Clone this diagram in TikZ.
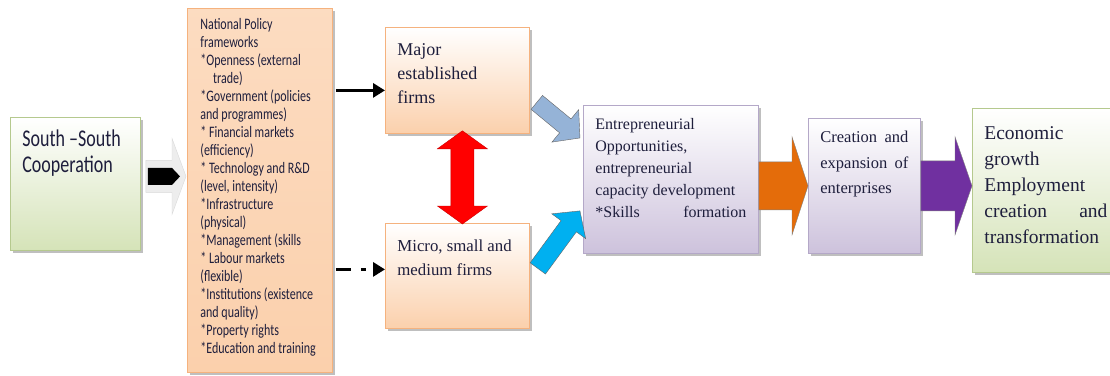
\documentclass[tikz,border=0pt]{standalone}
\usepackage{fontspec}
\setmainfont{Liberation Serif}
\newfontfamily\calibri[FakeStretch=0.75]{Carlito}
\usetikzlibrary{arrows.meta,calc,shadows}
\definecolor{ink}{HTML}{1E1E3C}
\definecolor{leaf}{HTML}{D5E3B8}
\definecolor{leafline}{HTML}{B5C98E}
\definecolor{peach}{HTML}{FBD0AC}
\definecolor{peachline}{HTML}{F5B27E}
\definecolor{lilac}{HTML}{CDC2DC}
\definecolor{lilacline}{HTML}{B4A8C8}
\definecolor{steel}{HTML}{95B3D7}
\definecolor{sky}{HTML}{00B0F0}
\definecolor{rust}{HTML}{E46C0A}
\definecolor{plum}{HTML}{7030A0}

% text block of a box: width, height, lines
\newcommand{\inbox}[3]{\parbox[t][#2][t]{#1}{\raggedright\strut#3}}
% block arrow: from, to, half body, half head, head length, options
\newcommand{\fatarrow}[6]{%
	\path[#6] let \p1=(#1), \p2=(#2), \n1={atan2(\y2-\y1,\x2-\x1)},
		\n2={veclen(\x2-\x1,\y2-\y1)}, \n3={\n2-#5} in
		[shift={(\p1)},rotate=\n1] (0,-#3) -- (\n3,-#3) -- (\n3,-#4) -- (\n2,0)
		-- (\n3,#4) -- (\n3,#3) -- (0,#3) -- cycle;}
\newcommand{\fatdblarrow}[6]{%
	\path[#6] let \p1=(#1), \p2=(#2), \n1={atan2(\y2-\y1,\x2-\x1)},
		\n2={veclen(\x2-\x1,\y2-\y1)}, \n3={\n2-#5} in
		[shift={(\p1)},rotate=\n1] (0,0) -- (#5,-#4) -- (#5,-#3) -- (\n3,-#3) -- (\n3,-#4)
		-- (\n2,0) -- (\n3,#4) -- (\n3,#3) -- (#5,#3) -- (#5,#4) -- cycle;}

\begin{document}
\begin{tikzpicture}[x=1pt,y=-1pt,
		box/.style={draw, line width=0.8pt, anchor=north west, inner xsep=12pt, text=ink,
			drop shadow={shadow xshift=3pt,shadow yshift=-3pt,fill=black!55,opacity=0.45}},
		greenbox/.style={box, draw=leafline, top color=white, bottom color=leaf},
		peachbox/.style={box, draw=peachline, top color=peach!75, bottom color=peach},
		firmbox/.style={box, draw=peachline, top color=white, bottom color=peach},
		lilacbox/.style={box, draw=lilacline, top color=white, bottom color=lilac},
		linkarrow/.style={line width=3pt, -{Triangle[length=12pt,width=14pt]}}]
	\fill[white] (0,0) rectangle (1110,375);
	\useasboundingbox (0,0) rectangle (1110,375);

	\node[greenbox, inner ysep=10pt, font=\calibri\fontsize{24}{26.7}\selectfont] (south) at (10,117)
		{\inbox{106pt}{113pt}{South –South\\ Cooperation}};
	\node[peachbox, inner xsep=13pt, inner ysep=8pt, font=\calibri\fontsize{16}{18}\selectfont] (policy) at (187,8)
		{\inbox{119pt}{348pt}{National Policy\\ frameworks\\ {*}Openness (external\\ \hspace*{0.8em}trade)\\
		{*}Government (policies\\ and programmes)\\ {*} Financial markets\\ (efficiency)\\ {*} Technology and R\&D\\
		(level, intensity)\\ {*}Infrastructure\\ (physical)\\ {*}Management (skills\\ {*} Labour markets\\ (flexible)\\
		{*}Institutions (existence\\ and quality)\\ {*}Property rights\\ {*}Education and training}};
	\node[firmbox, inner ysep=11pt, font=\fontsize{18}{24.2}\selectfont] (major) at (385,27)
		{\inbox{120pt}{84pt}{Major\\ established\\ firms}};
	\node[firmbox, inner ysep=11pt, font=\fontsize{16.8}{24.3}\selectfont] (micro) at (385,223)
		{\inbox{120pt}{83pt}{Micro, small and\\ medium firms}};
	\node[lilacbox, inner ysep=9pt, font=\fontsize{16}{22}\selectfont] (ent) at (583,105)
		{\inbox{151pt}{130pt}{Entrepreneurial\\ Opportunities,\\ entrepreneurial\\ capacity development\\ {*}Skills\hfill formation}};
	\node[lilacbox, inner ysep=6.5pt, font=\fontsize{16.5}{25.5}\selectfont] (cre) at (808,118)
		{\inbox{88pt}{122pt}{Creation\hfill and\\ expansion\hfill of\\ enterprises}};
	\node[greenbox, inner ysep=12.8pt, font=\fontsize{19.5}{26}\selectfont] (eco) at (972,108)
		{\inbox{123pt}{138.4pt}{Economic\\ growth\\ Employment\\ creation\hfill and\\ transformation}};

	\fatarrow{$(south.east)+(5,-7.5)$}{$(south.east -| policy.west)+(-1,-7.5)$}{16}{38}{14}{fill=black!7, draw=black!15}
	\fatarrow{$(south.east)+(7,-7.5)$}{$(south.east -| policy.west)+(-7,-7.5)$}{8.5}{8.5}{8}{fill=black}

	\draw[linkarrow] ($(policy.east |- major.west)+(3,10)$) -- ($(major.west)+(0,10)$);
	\draw[linkarrow, dash pattern=on 15pt off 10pt on 5pt off 8pt] ($(policy.east |- micro.west)+(3,-6.5)$) -- ($(micro.west)+(0,-6.5)$);

	\fatdblarrow{$(major.south)+(5,-3)$}{$(micro.north)+(5,1)$}{11.5}{25}{18}{fill=red, draw=red!80!black, line width=0.4pt}
	\fatarrow{$(major.east)+(7,22)$}{$(ent.north west)+(-3,33)$}{9}{21}{19}{fill=steel, draw=black!60}
	\fatarrow{$(micro.east)+(8,-7.5)$}{$(ent.south west)+(-3,-43)$}{9.5}{21}{19}{fill=sky, draw=black!60}
	\fatarrow{ent.east |- cre.west}{cre.west}{24}{49}{16}{fill=rust, draw=black!50}
	\fatarrow{cre.east}{eco.west |- cre.east}{25}{49}{17}{fill=plum, draw=black!50}
\end{tikzpicture}
\end{document}
